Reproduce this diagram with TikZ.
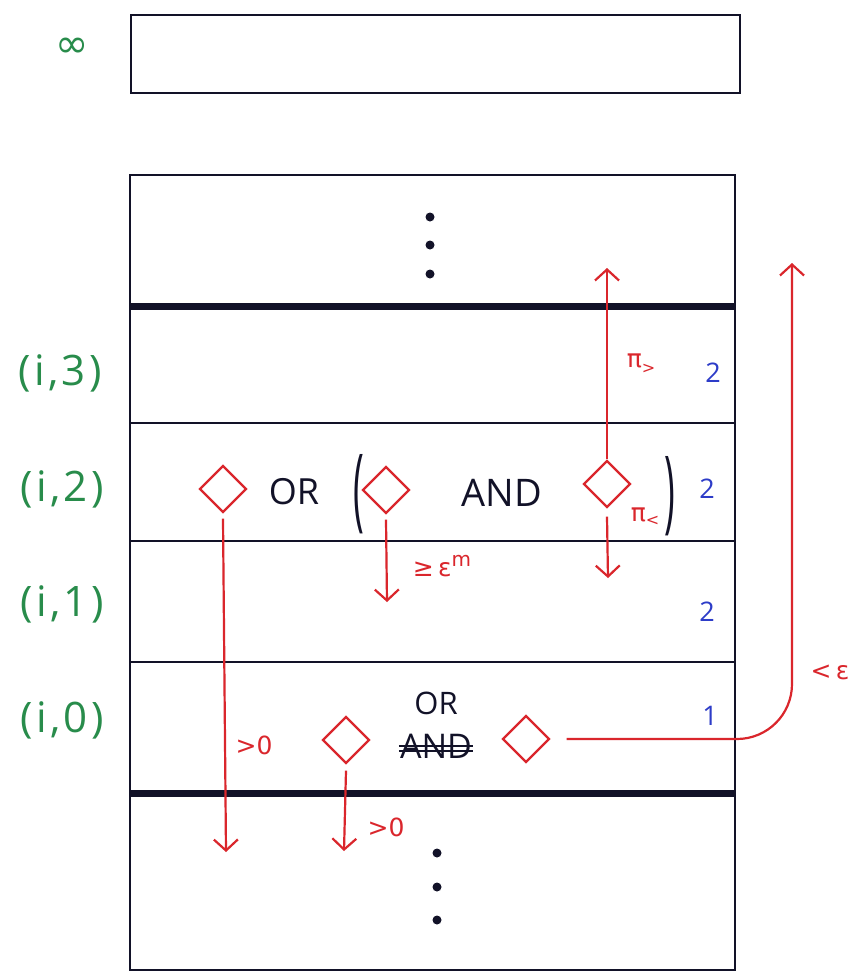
\documentclass[tikz,border=0pt]{standalone}
\usepackage{fontspec}
\setmainfont{Open Sans}
\newfontfamily\symf{DejaVu Sans}
\newfontfamily\labf[LetterSpace=8]{Open Sans}
\usetikzlibrary{shapes.geometric,arrows.meta}
\definecolor{hred}{RGB}{218,38,44}
\definecolor{hgreen}{RGB}{40,140,75}
\definecolor{hblue}{RGB}{45,60,200}
\definecolor{hink}{RGB}{18,18,40}
\tikzset{
  box/.style={draw=hink, line width=2.8pt},
  thickrule/.style={draw=hink, line width=7pt},
  thinrule/.style={draw=hink, line width=2.8pt},
  gate/.style={diamond, draw=hred, line width=2.4pt, minimum width=47pt, minimum height=47pt, inner sep=0pt, aspect=1},
  redarrow/.style={draw=hred, line width=2.2pt, -{Straight Barb[length=11pt,width=24pt,line width=2.2pt]}},
  rowlab/.style={text=hgreen, font=\labf\fontsize{42}{46}\selectfont},
  num/.style={text=hblue, font=\fontsize{27}{29}\selectfont},
  redlab/.style={text=hred, font=\symf\fontsize{25}{27}\selectfont, inner sep=1pt},
  op/.style={text=hink, font=\fontsize{36}{40}\selectfont, inner sep=1pt},
  paren/.style={text=hink, font=\fontsize{66}{66}\selectfont, inner sep=0pt},
  dotmark/.style={circle, fill=hink, inner sep=0pt, minimum size=9pt},
}
\newcommand{\tallparen}[1]{\scalebox{0.55}[1.38]{#1}}
\begin{document}
\begin{tikzpicture}[x=1pt,y=-1pt]
\useasboundingbox (0,0) rectangle (854,977);
\fill[white] (0,0) rectangle (854,977);

% infinity box
\node[box, minimum width=609pt, minimum height=78pt, inner sep=0pt] (infbox) at (435.5,54) {};
\node[text=hgreen, font=\symf\fontsize{40}{42}\selectfont] (inflab) at (72,48) {∞};

% main column
\draw[box] (130,175) rectangle (735,970);
\draw[thickrule] (130,306) -- (735,306);
\draw[thinrule] (130,423) -- (735,423);
\draw[thinrule] (130,541) -- (735,541);
\draw[thinrule] (130,662) -- (735,662);
\draw[thickrule] (130,793) -- (735,793);

% dots
\node[dotmark] (u1) at (430,217) {};
\node[dotmark] (u2) at (430,245) {};
\node[dotmark] (u3) at (430,274) {};
\node[dotmark] (b1) at (437,853) {};
\node[dotmark] (b2) at (437,887) {};
\node[dotmark] (b3) at (437,920) {};

% row labels
\node[rowlab] (r3) at (60,373) {(i,3)};
\node[rowlab] (r2) at (62,489) {(i,2)};
\node[rowlab] (r1) at (62,604) {(i,1)};
\node[rowlab] (r0) at (62,720) {(i,0)};

% blue numbers
\node[num] (n3) at (713,373) {2};
\node[num] (n2) at (707,489) {2};
\node[num] (n1) at (707,612) {2};
\node[num] (n0) at (710,716) {1};

% row (i,2)
\node[gate] (d1) at (223,489) {};
\node[op] (or2) at (294,492) {OR};
\node[paren] (lp) at (359,494) {\tallparen{(}};
\node[gate] (d2) at (386,490) {};
\node[op, font=\fontsize{38}{40}\selectfont] (and2) at (502,493) {AND};
\node[gate] (d3) at (607,484) {};
\node[paren] (rp) at (670,496) {\tallparen{)}};

% row (i,0)
\node[gate] (d4) at (346,740) {};
\node[op, font=\fontsize{31}{33}\selectfont] (or0) at (436,703) {OR};
\node[op, font=\fontsize{34}{36}\selectfont] (and0) at (436,746) {AND};
\draw[hink, line width=2pt] (and0.west) -- (and0.east);
\draw[hink, line width=1.6pt] ([yshift=-5pt]and0.west) -- ([yshift=-5pt]and0.east);
\node[gate] (d5) at (526,739) {};

% arrows
\coordinate (e1) at (226,852);
\draw[redarrow] ([yshift=-5pt]d1.south) -- (e1);
\node[redlab] (l1) at (254,745) {>0};

\coordinate (e2) at (387,602);
\draw[redarrow] ([yshift=-5pt]d2.south) -- (e2);
\node[redlab] (l2) at (442,566) {≥\,ε\raisebox{10pt}{\fontsize{20}{20}\selectfont m}};

\coordinate (e3u) at (607,268);
\draw[redarrow] (d3.north) -- (e3u);
\node[redlab] (l3u) at (641,364) {π\raisebox{-6pt}{\fontsize{16}{16}\selectfont >}};

\coordinate (e3d) at (608,578);
\draw[redarrow] ([yshift=-8pt]d3.south) -- (e3d);
\node[redlab] (l3d) at (645,517) {π\raisebox{-4pt}{\fontsize{16}{16}\selectfont <}};

\coordinate (e4) at (344,851);
\draw[redarrow] ([yshift=-6pt]d4.south) -- (e4);
\node[redlab] (l4) at (386,827) {>0};

\coordinate (e5) at (792,263);
\draw[redarrow, rounded corners=55pt] ([xshift=16pt]d5.east) -| (e5);
\node[redlab] (l5) at (830,672) {<\,ε};
\end{tikzpicture}
\end{document}
